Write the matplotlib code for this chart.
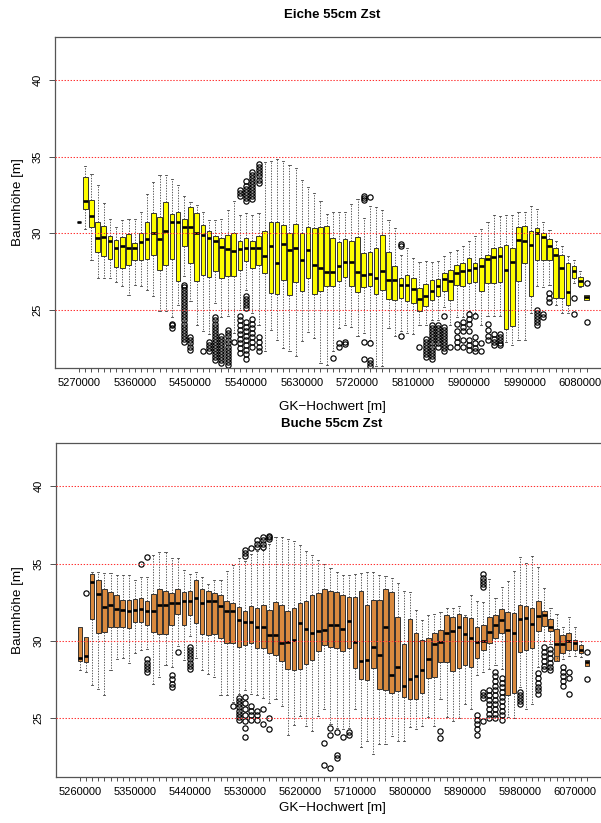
import matplotlib
matplotlib.use("Agg")
import matplotlib.pyplot as plt

plt.rcParams['font.family'] = ['Liberation Sans', 'DejaVu Sans']

# ---------------- data: Eiche (top) ----------------
start_top = 5270000
wl_top = [30.7, 30.3, 28.26, 27.07, 27.07, 27.07, 26.78, 26.52, 25.98, 26.63,
          26.52, 26.3, 25.87, 24.9, 24.9, 24.5, 25.3, 27.2, 25.6, 24.0,
          23.6, 23.4, 25.43, 24.5, 24.6, 23.5, 25.0, 26.3, 24.8, 24.0,
          22.3, 23.7, 23.04, 22.5, 22.3, 21.96, 22.93, 23.52, 23.15, 21.52,
          21.4, 22.3, 23.8, 23.98, 23.9, 23.3, 23.5, 23.0, 21.3, 21.3,
          23.8, 23.26, 23.59, 23.5, 23.4, 24.0, 24.0, 24.3, 24.3, 25.2,
          24.0, 24.5, 24.5, 24.9, 24.8, 24.0, 24.6, 24.6, 24.6, 22.9,
          22.7, 23.04, 23.04, 24.8, 26.52, 26.5, 26.6, 25.33, 24.78, 24.8,
          26.74, 26.5, 25.65]
q1_top = [30.7, 31.6, 30.37, 28.76, 28.48, 28.3, 27.8, 27.72, 27.93, 28.26,
          28.26, 28.3, 28.59, 27.6, 27.93, 28.3, 26.9, 29.17, 28.04, 26.9,
          27.26, 27.17, 27.5, 27.1, 27.2, 27.2, 27.57, 28.15, 27.72, 27.93,
          27.4, 26.09, 26.04, 26.96, 25.98, 26.78, 26.2, 27.07, 26.04, 26.2,
          26.57, 26.52, 26.89, 27.17, 26.52, 26.13, 26.48, 26.52, 26.04, 26.26,
          25.7, 25.65, 25.76, 25.54, 25.43, 24.89, 25.26, 25.65, 25.87, 26.2,
          25.65, 26.63, 26.52, 26.74, 26.78, 26.2, 26.74, 26.74, 26.78, 23.74,
          23.91, 26.85, 28.04, 25.91, 28.26, 28.26, 28.26, 25.76, 25.76, 25.33,
          27.07, 26.57, 25.65]
med_top = [30.7, 32.1, 31.15, 29.67, 29.72, 29.52, 29.02, 29.13, 29.0, 29.0,
           29.39, 29.61, 30.04, 29.63, 30.17, 30.7, 30.76, 30.43, 30.39, 30.0,
           29.85, 29.67, 29.46, 29.07, 28.96, 28.85, 28.96, 29.02, 29.0, 29.0,
           28.48, 29.17, 28.04, 29.3, 28.87, 29.0, 28.26, 28.87, 27.89, 27.72,
           27.46, 27.46, 27.83, 28.1, 28.1, 27.46, 27.28, 27.33, 27.07, 27.5,
           26.96, 26.96, 26.63, 26.63, 26.35, 25.7, 25.87, 26.2, 26.57, 27.0,
           26.85, 27.43, 27.5, 27.61, 27.72, 27.83, 28.3, 28.43, 28.48, 27.57,
           28.09, 29.57, 29.52, 29.24, 30.0, 29.74, 29.17, 28.59, 27.72, 26.13,
           27.5, 26.85, 25.83]
q3_top = [30.7, 33.65, 32.17, 30.7, 30.48, 29.83, 29.57, 29.74, 29.96, 29.35,
          30.0, 30.7, 31.3, 31.04, 32.0, 31.26, 31.35, 30.91, 31.7, 31.3,
          30.54, 30.17, 29.83, 29.67, 29.9, 30.04, 29.52, 29.67, 29.52, 29.83,
          30.17, 30.76, 30.76, 30.54, 30.04, 30.61, 30.04, 30.39, 30.33, 30.43,
          30.48, 29.67, 29.39, 29.61, 29.46, 29.74, 28.7, 28.74, 29.02, 29.87,
          28.8, 27.83, 27.07, 27.28, 27.07, 26.41, 26.7, 26.96, 27.0, 27.43,
          27.57, 27.93, 28.04, 28.37, 28.04, 28.37, 28.59, 29.02, 29.09, 29.24,
          29.02, 30.39, 30.48, 30.11, 30.33, 30.04, 29.61, 29.02, 28.59, 28.04,
          27.87, 27.17, 25.98]
wh_top = [30.7, 34.4, 33.87, 33.15, 31.96, 30.9, 30.39, 30.83, 30.9, 30.9,
          31.35, 32.57, 33.37, 33.8, 33.8, 33.52, 33.15, 32.4, 32.0, 31.85,
          31.4, 30.83, 30.83, 30.9, 31.52, 32.13, 31.2, 31.3, 31.2, 31.3,
          34.67, 34.74, 34.83, 34.74, 34.46, 34.24, 33.48, 33.0, 32.61, 32.07,
          31.26, 31.4, 31.35, 31.4, 31.9, 32.2, 31.0, 31.74, 31.7, 31.48,
          30.83, 30.33, 28.6, 29.02, 28.37, 28.09, 28.15, 28.1, 28.15, 28.52,
          28.8, 28.91, 29.13, 29.52, 29.83, 30.26, 30.7, 31.2, 31.09, 31.2,
          31.2, 31.4, 31.4, 31.78, 31.57, 30.76, 30.22, 29.52, 29.13, 28.48,
          28.22, 27.5, 25.98]
out_top = {
    15: [24.1, 24.0, 23.8],
    17: [26.6, 26.5, 26.3, 26.1, 25.9, 25.7, 25.5, 25.3, 25.1, 24.9, 24.7, 24.5,
         24.3, 24.1, 23.9, 23.7, 23.5, 23.3, 23.1, 22.9],
    18: [23.2, 23.0, 22.8, 22.6, 22.4],
    20: [22.3],
    21: [22.9, 22.7, 22.5, 22.3],
    22: [24.5, 24.3, 24.1, 23.9, 23.7, 23.5, 23.3, 23.1, 22.9, 22.7, 22.5, 22.3,
         22.1, 21.9, 21.7],
    23: [23.3, 23.1, 22.9, 22.7, 22.5, 22.3, 22.1, 21.9, 21.7, 21.5],
    24: [23.7, 23.5, 23.3, 23.0, 22.8, 22.6, 22.4, 22.2, 22.0, 21.8, 21.6, 21.4],
    25: [22.9],
    26: [32.8, 32.6, 32.4, 24.6, 24.3, 24.0, 23.7, 23.4, 23.1, 22.8, 22.5, 22.2],
    27: [33.4, 33.1, 32.9, 32.7, 32.5, 32.3, 32.1, 25.9, 25.7, 25.5, 25.3, 25.1,
         24.2, 23.9, 23.6, 23.3, 23.0, 22.7, 22.4, 22.1, 21.8],
    28: [34.0, 33.8, 33.6, 33.4, 33.2, 33.0, 32.8, 32.6, 32.4, 32.2,
         24.4, 24.1, 23.8, 23.5, 23.2, 22.9, 22.6],
    29: [34.5, 34.3, 34.1, 33.9, 33.7, 33.5, 33.3, 23.2, 22.9, 22.6, 22.3],
    41: [21.85],
    42: [22.8, 22.6],
    43: [22.9, 22.75],
    46: [32.45, 32.3, 32.15, 22.9, 21.8],
    47: [32.35, 22.85, 21.75, 21.55, 21.35],
    52: [29.3, 29.15, 23.3],
    55: [22.6],
    56: [23.1, 22.9, 22.7, 22.5, 22.3, 22.1, 21.9],
    57: [24.0, 23.8, 23.6, 23.4, 23.2, 23.0, 22.8, 22.6, 22.4, 22.2, 22.0, 21.8],
    58: [24.0, 23.8, 23.6, 23.4, 23.2, 23.0, 22.8, 22.6],
    59: [24.6, 23.9, 23.7, 23.5, 23.3, 23.1, 22.9, 22.7, 22.5, 22.3],
    60: [22.6],
    61: [24.1, 23.6, 23.2, 22.9, 22.6],
    62: [24.2, 23.9, 23.6, 23.0, 22.6],
    63: [24.7, 24.4, 24.1, 23.6, 23.0, 22.7, 22.4],
    64: [24.6, 23.2, 22.8, 22.5, 22.3],
    65: [22.8, 22.3],
    66: [24.1, 23.7, 23.3, 23.0],
    67: [23.4, 23.1, 22.9, 22.7],
    68: [23.4, 23.2, 23.0, 22.8, 22.7],
    74: [25.0, 24.8, 24.6, 24.4, 24.2, 24.0],
    75: [24.7, 24.5],
    76: [26.1, 25.8, 25.5],
    80: [25.76, 24.7],
    82: [26.74, 24.17],
}

# ---------------- data: Buche (bottom) ----------------
start_bot = 5260000
wl_bot = [28.1, 28.0, 27.13, 26.87, 26.52, 28.1, 28.83, 28.9, 28.6, 29.2,
          29.41, 29.5, 27.24, 27.67, 28.43, 28.3, 29.7, 28.76, 30.3, 28.87,
          28.1, 27.89, 27.67, 26.48, 26.52, 26.04, 26.6, 26.8, 26.6, 26.5,
          26.3, 26.0, 26.26, 25.78, 23.91, 24.57, 25.13, 24.52, 24.2, 25.17,
          25.6, 24.6, 24.4, 24.3, 24.4, 25.6, 23.17, 23.54, 22.67, 23.33,
          23.33, 23.87, 23.54, 23.54, 24.41, 24.3, 24.52, 25.07, 24.5, 26.26,
          25.07, 24.85, 25.0, 25.93, 25.6, 27.78, 28.0, 28.2, 28.43, 28.2,
          25.07, 25.0, 27.0, 25.57, 25.9, 28.3, 30.0, 29.8, 29.0, 28.8,
          29.0, 29.0, 28.95, 28.39]
q1_bot = [28.7, 28.65, 31.43, 30.5, 30.57, 30.87, 30.87, 30.87, 30.83, 31.22,
          31.22, 31.04, 30.57, 30.43, 30.43, 31.04, 31.74, 31.0, 31.7, 31.15,
          30.43, 30.39, 30.43, 30.22, 29.85, 29.85, 29.63, 29.74, 29.85, 29.52,
          29.52, 29.2, 29.09, 28.7, 28.17, 28.1, 28.17, 28.5, 28.76, 29.35,
          29.74, 29.63, 29.52, 29.35, 29.52, 28.22, 27.52, 27.46, 28.22, 26.87,
          26.8, 26.65, 26.74, 26.37, 26.26, 26.26, 26.65, 27.61, 27.67, 28.65,
          28.61, 28.04, 28.26, 28.43, 28.33, 28.91, 29.41, 29.85, 30.17, 30.5,
          26.52, 26.65, 29.3, 29.41, 29.52, 30.61, 30.96, 30.61, 28.7, 29.2,
          29.41, 29.41, 29.2, 28.39]
med_bot = [28.87, 29.02, 33.83, 33.04, 32.17, 32.3, 32.09, 32.02, 31.91, 32.02,
           32.09, 31.91, 31.91, 32.3, 32.3, 32.46, 32.46, 32.57, 32.61, 32.78,
           32.46, 32.61, 32.57, 32.24, 31.96, 31.91, 31.37, 31.22, 31.22, 30.87,
           30.87, 30.39, 30.39, 29.85, 29.96, 30.07, 31.15, 30.8, 30.5, 30.65,
           30.72, 31.0, 31.0, 30.78, 31.3, 29.96, 28.7, 28.76, 29.63, 29.09,
           30.87, 27.78, 28.33, 27.09, 27.57, 27.74, 28.11, 28.83, 29.78, 29.96,
           30.5, 30.65, 30.87, 30.43, 30.17, 29.91, 30.0, 30.57, 31.0, 31.37,
           30.72, 30.5, 31.43, 31.48, 31.09, 31.59, 31.65, 30.87, 29.8, 29.78,
           30.0, 29.85, 29.41, 28.65]
q3_bot = [30.91, 30.28, 34.35, 33.91, 33.39, 33.17, 32.96, 32.67, 32.63, 32.74,
          32.78, 32.61, 33.04, 33.33, 33.22, 33.11, 33.39, 33.17, 33.22, 33.91,
          33.39, 33.26, 33.11, 33.0, 32.61, 32.46, 32.17, 31.96, 32.24, 32.13,
          32.3, 32.02, 32.52, 32.3, 31.96, 32.13, 32.46, 32.61, 33.0, 33.11,
          33.39, 33.26, 33.17, 33.0, 32.83, 32.83, 33.22, 32.35, 32.67, 32.67,
          33.39, 33.17, 31.52, 29.78, 31.43, 30.5, 30.07, 30.17, 30.5, 30.72,
          31.65, 31.52, 31.74, 31.52, 31.48, 30.93, 31.0, 31.52, 31.65, 32.09,
          31.87, 31.8, 32.35, 32.24, 32.13, 32.57, 31.96, 31.43, 30.8, 30.39,
          30.5, 30.07, 29.74, 28.76]
wh_bot = [30.91, 30.28, 34.48, 34.48, 34.41, 34.41, 34.26, 34.26, 34.26, 33.91,
          34.13, 34.13, 35.57, 35.72, 35.78, 35.35, 35.35, 34.57, 34.35, 34.48,
          34.13, 33.7, 33.91, 33.91, 34.52, 34.91, 35.39, 35.2, 35.6, 35.8,
          35.9, 36.3, 36.74, 36.7, 36.59, 36.43, 36.22, 35.83, 35.57, 35.22,
          35.0, 34.7, 34.48, 34.26, 34.26, 34.3, 34.41, 34.48, 34.48, 34.26,
          34.2, 34.04, 33.76, 33.22, 33.17, 32.02, 31.37, 31.65, 31.74, 31.87,
          32.13, 32.13, 32.24, 31.7, 33.0, 32.57, 32.5, 33.98, 32.78, 33.5,
          33.87, 34.52, 35.43, 35.07, 35.5, 34.78, 33.43, 32.13, 31.74, 30.87,
          31.52, 30.87, 30.0, 28.76]
out_bot = {
    1: [33.1],
    10: [35.0],
    11: [35.4, 28.8, 28.6, 28.4, 28.2, 28.0],
    15: [27.8, 27.55, 27.2, 27.0],
    16: [29.3],
    18: [29.6, 29.4, 29.2, 29.0, 28.8, 28.6, 28.4, 28.2],
    25: [25.8],
    26: [26.3, 26.1, 25.9, 25.7, 25.5, 25.3, 25.1, 24.9],
    27: [35.9, 35.7, 35.5, 26.4, 26.0, 25.6, 25.2, 24.8, 24.4, 23.8],
    28: [36.0, 25.8, 25.5, 25.2, 24.9],
    29: [36.5, 36.3, 36.1, 25.5, 25.2, 24.9],
    30: [36.7, 36.5, 36.3, 36.1, 25.6, 24.6],
    31: [36.8, 36.7, 36.6, 25.0, 24.3],
    40: [23.4, 21.96],
    41: [24.4, 23.9, 21.8],
    42: [24.1, 22.6, 22.45],
    43: [23.8],
    44: [24.1, 23.9],
    59: [24.2, 23.7],
    65: [25.2, 24.9, 24.6, 24.3, 23.9],
    66: [34.3, 34.1, 33.9, 33.7, 33.5, 26.7, 26.5, 26.3, 24.85],
    67: [26.8, 26.5, 26.2, 25.9, 25.6, 25.3, 25.0],
    68: [28.0, 27.7, 27.4, 27.1, 26.8, 26.5, 26.2, 25.9, 25.6, 25.3, 25.0],
    69: [27.6, 27.3, 27.0, 26.7, 26.4, 26.1, 25.8, 25.5, 25.2, 24.9],
    72: [26.7, 26.5, 26.3, 26.1, 25.9],
    75: [27.9, 27.6, 27.3, 27.0, 26.8, 26.6],
    76: [29.6, 29.3, 29.0, 28.7, 28.4, 28.2],
    77: [29.5, 29.2, 28.9, 28.6, 28.3, 28.1],
    79: [28.3, 28.0, 27.7, 27.4, 27.1],
    80: [28.0, 27.6, 26.6],
    83: [29.26, 27.57],
}

ref_lines = [25, 30, 35, 40]
ytick_vals = [25, 30, 35, 40]

W, H = 601.0, 823.0
fig = plt.figure(figsize=(W / 100, H / 100), dpi=100)


def rect(l, t, r, b):
    return [l / W, 1 - b / H, (r - l) / W, (b - t) / H]


def panel(ax, start, wl, q1, med, q3, wh, outs, color):
    n = len(med)
    stats = []
    for i in range(n):
        stats.append(dict(whislo=wl[i], q1=q1[i], med=med[i], q3=q3[i],
                          whishi=wh[i], fliers=outs.get(i, [])))
    ax.bxp(stats, positions=list(range(n)), widths=0.75, patch_artist=True,
           boxprops=dict(facecolor=color, edgecolor='#262626', linewidth=0.65),
           medianprops=dict(color='black', linewidth=1.9, solid_capstyle='butt'),
           whiskerprops=dict(color='#404040', linestyle=(0, (1.6, 1.6)), linewidth=0.6),
           capprops=dict(color='#404040', linewidth=0.6),
           flierprops=dict(marker='o', markerfacecolor='none', markeredgecolor='black',
                           markersize=3.8, markeredgewidth=0.85),
           capwidths=0.35, zorder=2)
    for y in ref_lines:
        ax.axhline(y, color='#ff3030', linestyle=(0, (1.3, 1.6)), linewidth=0.75, zorder=3)
    ax.set_xlim(-0.5 - 0.04 * n, n - 0.5 + 0.04 * n)
    ax.set_ylim(21.2, 42.8)
    ax.set_xticks(list(range(n)))
    ax.set_xticklabels([str(start + 10000 * i) if i % 9 == 0 else '' for i in range(n)])
    ax.set_yticks(ytick_vals)
    ax.set_yticklabels([str(v) for v in ytick_vals], rotation=90, va='center')
    ax.tick_params(axis='x', length=3.2, width=0.6, pad=4, labelsize=8, color='#333333')
    ax.tick_params(axis='y', length=4, width=0.6, pad=5, labelsize=8, color='#333333')
    for s in ax.spines.values():
        s.set_color('#555555')
        s.set_linewidth(0.9)


ax1 = fig.add_axes(rect(55.4, 37, 610.2, 368))
panel(ax1, start_top, wl_top, q1_top, med_top, q3_top, wh_top, out_top, '#ffff00')
ax2 = fig.add_axes(rect(56.4, 443, 610.7, 777))
panel(ax2, start_bot, wl_bot, q1_bot, med_bot, q3_bot, wh_bot, out_bot, '#d98a3f')

cx = 332.0 / W
fig.text(cx, 1 - 15 / H, 'Eiche 55cm Zst', ha='center', va='center', fontsize=9.5, fontweight='bold')
fig.text(cx, 1 - 424 / H, 'Buche 55cm Zst', ha='center', va='center', fontsize=9.5, fontweight='bold')
fig.text(cx, 1 - 407 / H, 'GK\u2212Hochwert [m]', ha='center', va='center', fontsize=9.7)
fig.text(cx, 1 - 808 / H, 'GK\u2212Hochwert [m]', ha='center', va='center', fontsize=9.7)
fig.text(18 / W, 1 - 202 / H, 'Baumhöhe [m]', ha='center', va='center', rotation=90, fontsize=9.7)
fig.text(18 / W, 1 - 610 / H, 'Baumhöhe [m]', ha='center', va='center', rotation=90, fontsize=9.7)

fig.savefig('out.png', dpi=100)
